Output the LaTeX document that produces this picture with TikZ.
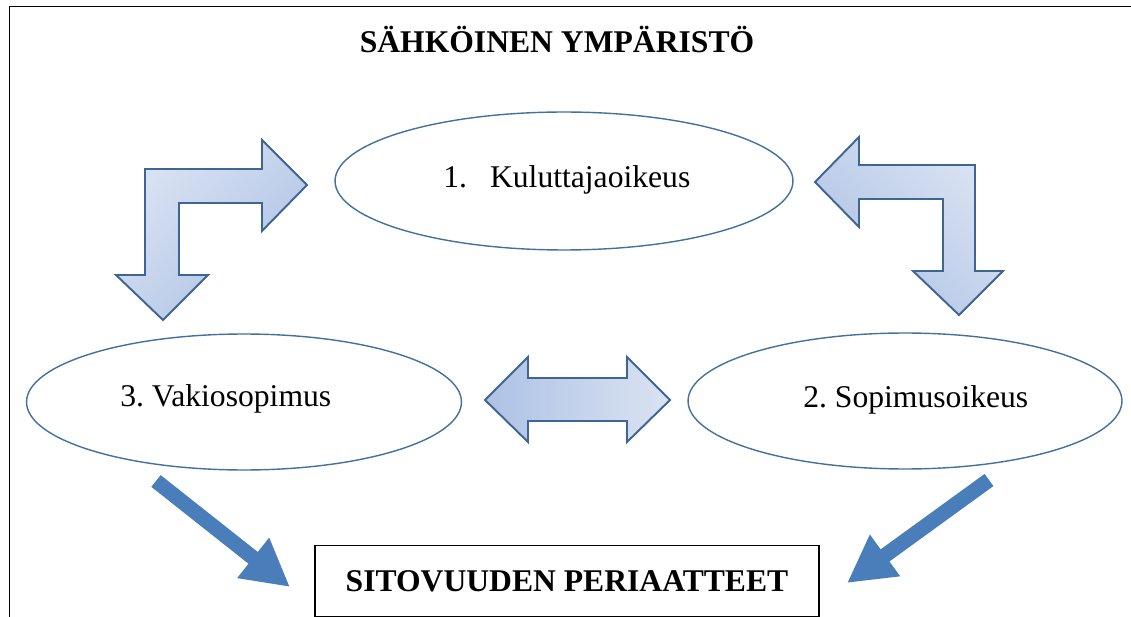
\documentclass[tikz,border=0pt]{standalone}
\usepackage{fontspec}
\setmainfont{Liberation Serif}
\usetikzlibrary{arrows.meta,shapes.geometric}
\definecolor{ovalline}{HTML}{41719C}
\definecolor{arrowline}{HTML}{3F6592}
\definecolor{arrowlight}{HTML}{DAE3F2}
\definecolor{arrowdark}{HTML}{AEC2E5}
\definecolor{solidblue}{HTML}{4A7EBB}
\frenchspacing

\begin{document}
\begin{tikzpicture}[x=0.02cm, y=-0.02cm, font=\fontsize{18}{22}\selectfont]
		\tikzset{oval/.style={ellipse, draw=ovalline, line width=0.8pt, inner sep=0pt},
		         ovaltext/.style={anchor=base west, inner sep=0pt},
		         bent/.style={draw=arrowline, line width=1.1pt, line join=miter},
		         bigarrow/.style={draw=solidblue, line width=0.3cm, -{Triangle[length=0.94cm, width=0.96cm]}}}
		\useasboundingbox (0,0) rectangle (1131,617);
		% frame
		\draw[line width=1pt] (9.5,617) -- (9.5,6.5) -- (1131,6.5);
		\node[anchor=base, inner sep=0pt, font=\fontsize{18}{22}\selectfont\bfseries] (T) at (557,53) {SÄHKÖINEN YMPÄRISTÖ};
		% ovals
		\node[oval, minimum width=9.16cm, minimum height=2.76cm] (K) at (564,181) {};
		\node[oval, minimum width=8.68cm, minimum height=2.72cm] (S) at (905,401) {};
		\node[oval, minimum width=8.70cm, minimum height=2.72cm] (V) at (244,402) {};
		\node[ovaltext] (Kt) at (443,188) {1.\hspace{0.46cm}Kuluttajaoikeus};
		\node[ovaltext] (St) at (803,408) {2. Sopimusoikeus};
		\node[ovaltext] (Vt) at (120,407) {3. Vakiosopimus};
		\node[draw, line width=0.8pt, minimum width=10.08cm, minimum height=1.42cm, inner sep=0pt,
		      font=\fontsize{18}{22}\selectfont\bfseries] (P) at (567,581) {SITOVUUDEN PERIAATTEET};
		% block arrows
		\draw[bent, top color=arrowlight, bottom color=arrowdark, shading angle=45]
		(145,169) -- (262,169) -- (262,140) -- (307,185) -- (262,231) -- (262,203) -- (179,203)
		-- (179,275) -- (208,275) -- (163,320) -- (116,275) -- (145,275) -- cycle;
		\draw[bent, top color=arrowlight, bottom color=arrowdark, shading angle=-45]
		(815,182) -- (859,137) -- (859,165) -- (975,165) -- (975,271) -- (1003,271) -- (959,315)
		-- (913,271) -- (943,271) -- (943,199) -- (859,199) -- (859,227) -- cycle;
		\draw[bent, left color=arrowdark, right color=arrowlight]
		(485,400) -- (528,357) -- (528,378) -- (627,378) -- (627,357) -- (670,400) -- (627,442)
		-- (627,421) -- (528,421) -- (528,442) -- cycle;
		% solid arrows
		\coordinate (v1) at (156,481);
		\coordinate (p1) at (290,587);
		\coordinate (s1) at (989,480);
		\coordinate (p2) at (847,583);
		\draw[bigarrow] (v1) -- (p1);
		\draw[bigarrow] (s1) -- (p2);
	\end{tikzpicture}
\end{document}
